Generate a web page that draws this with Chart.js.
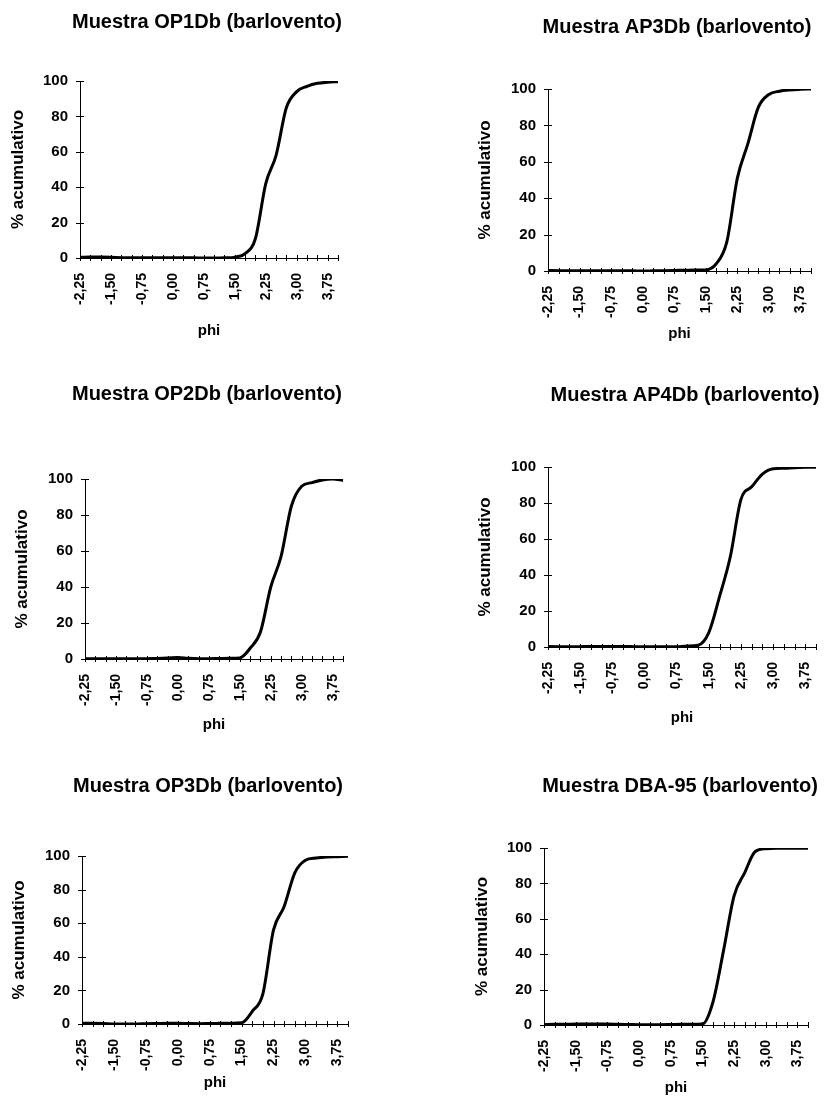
<!DOCTYPE html>
<html>
<head>
<meta charset="utf-8">
<script src="https://cdn.jsdelivr.net/npm/chart.js@4.4.1/dist/chart.umd.min.js"></script>
<style>
  html, body { margin: 0; padding: 0; background: #fff; overflow: hidden; }
  body { width: 835px; height: 1107px; position: relative; }
  canvas { position: absolute; }
</style>
</head>
<body>
<script>
// eje x: phi cada 0,25
const phi = ['-2,25','-2,00','-1,75','-1,50','-1,25','-1,00','-0,75','-0,50','-0,25','0,00','0,25','0,50','0,75',
  '1,00','1,25','1,50','1,75','2,00','2,25','2,50','2,75','3,00','3,25','3,50','3,75','4,00'];

// % acumulativo de cada muestra
const op1Db = [0.4,0.5,0.5,0.4,0.2,0.1,0.1,0.1,0.1,0.1,0.1,0.1,0,0,0.1,0.5,2.5,11,42,58,85,94,97,98.7,99.3,99.6];
const ap3Db = [0.3,0.2,0.2,0.2,0.2,0.2,0.2,0.1,0.1,0,0.1,0.2,0.3,0.4,0.5,0.6,4,16,51,70,90,97,98.8,99.5,99.8,100];
const op2Db = [0.2,0.2,0.2,0.1,0.1,0.1,0.2,0.3,0.5,0.8,0.4,0.2,0.2,0.3,0.4,0.6,6,15,40,57,85,96,98,99.5,100,99.2];
const ap4Db = [0.3,0.2,0.1,0.2,0.3,0.3,0.3,0.3,0.2,0.1,0.1,0.1,0.2,0.5,1,8,28,50,82,89,96,99,99.3,99.6,99.8,99.9];
const op3Db = [0.4,0.4,0.3,0,0,0,0.2,0.3,0.4,0.4,0.3,0.2,0.3,0.4,0.5,0.7,7.5,18,56,70,90,97.5,98.8,99.4,99.6,99.8];
const dba95 = [0.3,0.4,0.4,0.5,0.5,0.6,0.6,0.4,0.3,0.2,0.2,0.2,0.3,0.4,0.4,0.5,13,42,73,86,98,99.6,99.8,99.8,99.8,99.9];

const yTicks = [0, 20, 40, 60, 80, 100];

const titulos = [
  'Muestra OP1Db (barlovento)', 'Muestra AP3Db (barlovento)',
  'Muestra OP2Db (barlovento)', 'Muestra AP4Db (barlovento)',
  'Muestra OP3Db (barlovento)', 'Muestra DBA-95 (barlovento)'
];
const series = [op1Db, ap3Db, op2Db, ap4Db, op3Db, dba95];

// posiciones en la pagina: centro del titulo, area del grafico, titulo y, phi
const marcos = [
  { tx: 207, ty: 22,  l: 80,  r: 338, t: 81,  b: 258,  ytx: 18,  phiY: 331 },
  { tx: 677, ty: 27,  l: 548, r: 811, t: 89,  b: 271,  ytx: 485, phiY: 334 },
  { tx: 207, ty: 394, l: 85,  r: 343, t: 479, b: 659,  ytx: 22,  phiY: 725 },
  { tx: 685, ty: 395, l: 548, r: 816, t: 467, b: 647,  ytx: 485, phiY: 718 },
  { tx: 208, ty: 786, l: 82,  r: 348, t: 856, b: 1024, ytx: 19,  phiY: 1083 },
  { tx: 680, ty: 786, l: 544, r: 808, t: 848, b: 1025, ytx: 482, phiY: 1088 }
];

const fuente = "'Liberation Sans', Arial, sans-serif";

// marcas en cruz sobre los ejes
const cruces = {
  id: 'cruces',
  afterDraw(chart) {
    const { ctx, chartArea, scales: { x, y } } = chart;
    ctx.save();
    ctx.strokeStyle = '#000';
    ctx.lineWidth = 1;
    ctx.beginPath();
    x.ticks.forEach((t, i) => {
      const px = Math.round(x.getPixelForTick(i)) + 0.5;
      ctx.moveTo(px, chartArea.bottom - 3);
      ctx.lineTo(px, chartArea.bottom + 3);
    });
    y.ticks.forEach((t, i) => {
      const py = Math.round(y.getPixelForTick(i)) + 0.5;
      ctx.moveTo(chartArea.left - 4, py);
      ctx.lineTo(chartArea.left + 4, py);
    });
    ctx.stroke();
    ctx.restore();
  }
};

marcos.forEach((m, k) => {
  const left = m.ytx - 12;
  const top = Math.round(m.ty - 11);
  const yW = m.l - left;
  // hueco a la derecha para que el titulo quede centrado donde esta en el original
  const derW = 2 * m.tx - m.r - left;
  const W = m.r - left + derW;
  const H = Math.round(m.phiY + 9 - top);
  const tituloTop = (m.ty - top) - 12;
  const tituloBottom = m.t - top - 24 - tituloTop;
  const xH = H - (m.b - top);

  const canvas = document.createElement('canvas');
  canvas.width = W;
  canvas.height = H;
  canvas.style.left = left + 'px';
  canvas.style.top = top + 'px';
  document.body.appendChild(canvas);

  new Chart(canvas.getContext('2d'), {
    type: 'line',
    data: {
      labels: phi,
      datasets: [{
        data: series[k],
        borderColor: '#000',
        borderWidth: 3,
        pointRadius: 0,
        fill: false,
        cubicInterpolationMode: 'monotone'
      }]
    },
    options: {
      responsive: false,
      animation: false,
      layout: { padding: 0 },
      plugins: {
        legend: { display: false },
        tooltip: { enabled: false },
        title: {
          display: true,
          text: titulos[k],
          color: '#000',
          font: { family: fuente, size: 20, weight: 'bold' },
          padding: { top: tituloTop, bottom: tituloBottom }
        }
      },
      scales: {
        x: {
          type: 'category',
          offset: false,
          grid: { display: false, drawTicks: false },
          border: { display: true, color: '#000', width: 1 },
          ticks: {
            autoSkip: false,
            minRotation: 90,
            maxRotation: 90,
            padding: 15,
            color: '#000',
            font: { family: fuente, size: 14, weight: 'bold' },
            callback: function (v, i) { return i % 3 === 0 ? this.getLabelForValue(v) : ''; }
          },
          title: {
            display: true,
            text: 'phi',
            color: '#000',
            font: { family: fuente, size: 15, weight: 'bold' },
            padding: { top: 0, bottom: H - 9 - (m.phiY - top) }
          },
          afterFit: s => { s.height = xH; }
        },
        y: {
          min: 0,
          max: 100,
          grid: { display: false, drawTicks: false },
          border: { display: true, color: '#000', width: 1 },
          afterBuildTicks: s => { s.ticks = yTicks.map(v => ({ value: v })); },
          ticks: {
            padding: 12,
            color: '#000',
            font: { family: fuente, size: 15, weight: 'bold' }
          },
          title: {
            display: true,
            text: '% acumulativo',
            color: '#000',
            font: { family: fuente, size: 17, weight: 'bold' },
            padding: { top: (m.ytx - left) - 10.2, bottom: 0 }
          },
          afterFit: s => { s.width = yW; }
        },
        derecha: {
          type: 'linear',
          position: 'right',
          display: true,
          grid: { display: false },
          border: { display: false },
          ticks: { display: false },
          afterFit: s => { s.width = derW; }
        }
      }
    },
    plugins: [cruces]
  });
});
</script>
</body>
</html>
